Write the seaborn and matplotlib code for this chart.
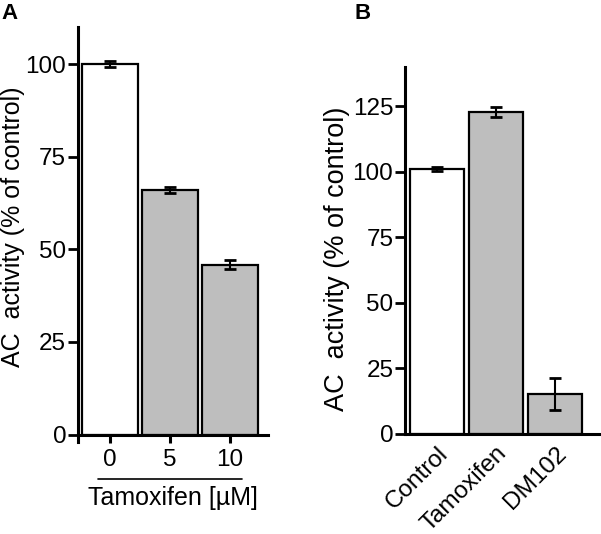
"""
Import packages
"""
import matplotlib
matplotlib.use('Agg')
import matplotlib.pyplot as plt
import seaborn as sns
import pandas as pd

"""
Data read off the figure
"""
doses = ['0', '5', '10']
dose_activity = [100.0, 66.0, 45.9]
dose_err = [0.9, 0.9, 1.2]

treatments = ['Control', 'Tamoxifen', 'DM102']
treat_activity = [101.1, 122.8, 15.3]
treat_err = [0.8, 1.8, 6.1]

bar_colors = ['white', '#bebebe', '#bebebe']

sns.set_style('ticks')
plt.rcParams['font.family'] = ['Liberation Sans', 'DejaVu Sans']
plt.rcParams['text.color'] = 'black'
plt.rcParams['axes.labelcolor'] = 'black'
plt.rcParams['xtick.color'] = 'black'
plt.rcParams['ytick.color'] = 'black'
fs = 17.5

fig = plt.figure(figsize=(6.01, 5.34), dpi=100)
axA = fig.add_axes([0.1298, 0.1723, 0.3162, 0.777])
axB = fig.add_axes([0.674, 0.1873, 0.326, 0.6872])


def draw_bars(ax, cats, vals, errs):
    df = pd.DataFrame({'cat': cats, 'val': vals})
    sns.barplot(data=df, x='cat', y='val', hue='cat', palette=bar_colors,
                legend=False, width=0.92, edgecolor='black', linewidth=1.6,
                ax=ax)
    ax.errorbar(range(len(cats)), vals, yerr=errs, fmt='none', ecolor='black',
                elinewidth=1.5, capsize=4, capthick=2)
    for side in ['top', 'right']:
        ax.spines[side].set_visible(False)
    for side in ['left', 'bottom']:
        ax.spines[side].set_linewidth(2.2)
        ax.spines[side].set_color('black')
    ax.tick_params(axis='y', width=2, length=7.5, labelsize=fs, pad=1)
    ax.set_xlabel('')


"""
Panel A: tamoxifen dose
"""
draw_bars(axA, doses, dose_activity, dose_err)
axA.set_ylim(-2, 110)
axA.set_xlim(-0.53, 2.63)
axA.spines['bottom'].set_position(('data', 0))
axA.set_yticks([0, 25, 50, 75, 100])
axA.tick_params(axis='x', width=2.2, length=5.5, labelsize=fs, pad=5)
axA.plot([-0.2, 2.2], [-11.9, -11.9], color='black', lw=1.2, clip_on=False)
axA.set_xlabel('Tamoxifen [µM]', fontsize=18, labelpad=11)
axA.set_ylabel('AC  activity (% of control)', fontsize=18)
axA.yaxis.set_label_coords(0.042, 0.575, transform=fig.transFigure)
fig.text(0.003, 0.995, 'A', fontsize=16, fontweight='bold', va='top')

"""
Panel B: control vs tamoxifen vs DM102
"""
draw_bars(axB, treatments, treat_activity, treat_err)
axB.set_ylim(0, 140)
axB.set_xlim(-0.54, 2.78)
axB.set_yticks([0, 25, 50, 75, 100, 125])
axB.tick_params(axis='x', length=0, labelsize=fs, pad=6)
plt.setp(axB.get_xticklabels(), rotation=45, ha='right', rotation_mode='anchor')
axB.set_ylabel('AC  activity (% of control)', fontsize=19.5)
axB.yaxis.set_label_coords(0.582, 0.515, transform=fig.transFigure)
fig.text(0.59, 0.995, 'B', fontsize=16, fontweight='bold', va='top')

plt.savefig('out.png', dpi=100)
plt.close()
